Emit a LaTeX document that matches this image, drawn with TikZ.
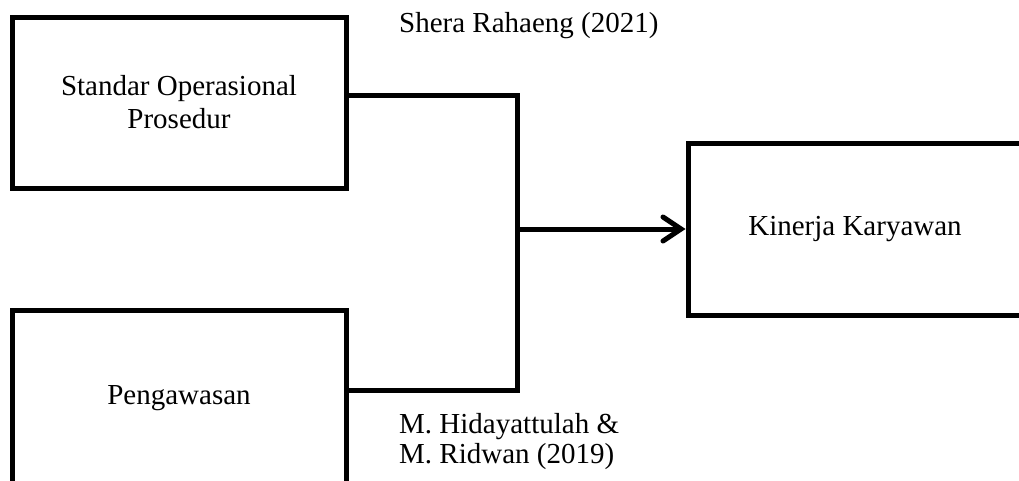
\documentclass[tikz,border=0pt]{standalone}
\usepackage{fontspec}
\setmainfont{Liberation Serif}
\usetikzlibrary{arrows.meta}
\begin{document}
\begin{tikzpicture}[x=1pt,y=-1pt,
  box/.style={draw=black,line width=5pt,minimum width=334pt,inner sep=0pt,align=center,
    font=\fontsize{29}{33}\selectfont},
  conn/.style={draw=black,line width=5pt},
  lbl/.style={inner sep=0pt,align=left,font=\fontsize{29}{30}\selectfont}]
\useasboundingbox (0,0) rectangle (1019,480);
\clip (0,0) rectangle (1019,480);
\node[box,minimum height=171pt] (sop) at (179,102.5) {Standar Operasional\\Prosedur};
\node[box,minimum height=176pt] (pg) at (179,398) {Pengawasan};
\node[box,minimum height=172pt] (kk) at (855,229) {Kinerja Karyawan};
\coordinate (j) at (517,229);
\draw[conn] ([yshift=7.5pt]sop.east) -| (j);
\draw[conn] ([yshift=8pt]pg.east) -| (j);
\draw[conn,-{Straight Barb[length=18pt,width=24pt,line cap=round]}] (j) -- (kk.west);
\node[lbl,anchor=base west] (r1) at (399,32) {Shera Rahaeng (2021)};
\node[lbl,anchor=base west] (r2) at (399,463) {M. Hidayattulah \&\\M. Ridwan (2019)};
\end{tikzpicture}
\end{document}
